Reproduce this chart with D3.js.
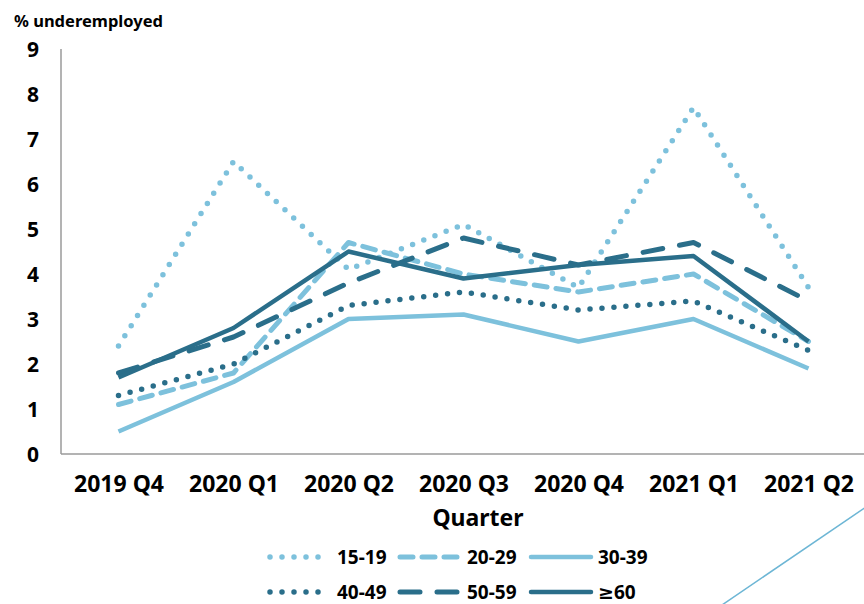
<!DOCTYPE html>
<html>
<head>
<meta charset="utf-8">
<script src="https://cdn.jsdelivr.net/npm/d3@7"></script>
<style>
  html,body{margin:0;padding:0;background:#fff;}
  svg{display:block;}
  svg text{font-family:"Noto Sans","DejaVu Sans",sans-serif;font-weight:bold;}
</style>
</head>
<body>
<div id="chart"></div>
<script>
const quarters = ['2019 Q4','2020 Q1','2020 Q2','2020 Q3','2020 Q4','2021 Q1','2021 Q2'];
const yTicks = [0,1,2,3,4,5,6,7,8,9];
const ages = ['15-19','20-29','30-39','40-49','50-59','≥60'];

const v15_19 = [2.4, 6.5, 4.1, 5.1, 3.7, 7.7, 3.7];
const v20_29 = [1.1, 1.8, 4.7, 4.0, 3.6, 4.0, 2.5];
const v30_39 = [0.5, 1.6, 3.0, 3.1, 2.5, 3.0, 1.9];
const v40_49 = [1.3, 2.0, 3.3, 3.6, 3.2, 3.4, 2.3];
const v50_59 = [1.8, 2.6, 3.8, 4.8, 4.2, 4.7, 3.4];
const v60 = [1.7, 2.8, 4.5, 3.9, 4.2, 4.4, 2.5];

const LIGHT = '#7dc1dc', DARK = '#2a6e8a';
// line styles per series: colour, dash pattern
const styles = [
  {c:LIGHT, dash:'0 12', w:5.5},
  {c:LIGHT, dash:'13 9', w:5},
  {c:LIGHT, dash:null, w:4.5},
  {c:DARK, dash:'0 12', w:5.5},
  {c:DARK, dash:'20 17', w:5},
  {c:DARK, dash:null, w:4.5}
];
const series = [v15_19, v20_29, v30_39, v40_49, v50_59, v60];

const W=864, H=604;
const svg = d3.select('#chart').append('svg').attr('width',W).attr('height',H);

const x = d3.scalePoint().domain(quarters).range([61,866]).padding(0.5);
const y = d3.scaleLinear().domain([0,9]).range([454,49]);

// axes
const yAx = svg.append('g').attr('transform','translate(61,0)')
  .call(d3.axisLeft(y).tickValues(yTicks).tickSize(0).tickPadding(22).tickFormat(d3.format('d')));
yAx.attr('font-family',null);
yAx.select('.domain').remove();
yAx.selectAll('text').attr('font-size',21).attr('fill','#000').attr('dy','0.36em');

const xAx = svg.append('g').attr('transform','translate(0,454)')
  .call(d3.axisBottom(x).tickSize(0).tickPadding(0));
xAx.attr('font-family',null);
xAx.select('.domain').remove();
xAx.selectAll('text').attr('font-size',23).attr('fill','#000').attr('y',38).attr('dy',null);

svg.append('line').attr('x1',61).attr('x2',61).attr('y1',49).attr('y2',454)
  .attr('stroke','#9a9a9a').attr('stroke-width',1.5);
svg.append('line').attr('x1',61).attr('x2',866).attr('y1',454).attr('y2',454)
  .attr('stroke','#9a9a9a').attr('stroke-width',1.5);

svg.append('text').attr('x',14).attr('y',27).attr('font-size',16.5).text('% underemployed');
svg.append('text').attr('x',478).attr('y',526).attr('text-anchor','middle').attr('font-size',23).text('Quarter');

// lines
const line = d3.line().x((d,i)=>x(quarters[i])).y(d=>y(d));
svg.append('g').selectAll('path').data(series).join('path')
  .attr('d',line)
  .attr('fill','none')
  .attr('stroke',(d,i)=>styles[i].c)
  .attr('stroke-width',(d,i)=>styles[i].w)
  .attr('stroke-dasharray',(d,i)=>styles[i].dash)
  .attr('stroke-linecap',(d,i)=>styles[i].dash ? 'round' : 'butt')
  .attr('stroke-linejoin','round');

// legend
const colX = [270, 400, 531];
const rowY = [557, 592];
const lg = svg.append('g').selectAll('g').data(ages).join('g')
  .attr('transform',(d,i)=>`translate(${colX[i%3]},${rowY[Math.floor(i/3)]})`);
lg.append('line').attr('x1',0).attr('x2',(d,i)=>i%3===2?60:57).attr('y1',0).attr('y2',0)
  .attr('stroke',(d,i)=>styles[i].c)
  .attr('stroke-width',(d,i)=>styles[i].w)
  .attr('stroke-dasharray',(d,i)=>styles[i].dash)
  .attr('stroke-linecap','round');
lg.append('text').attr('x',67).attr('dy','0.36em').attr('font-size',19).text(d=>d);

// stray diagonal rule at lower right
svg.append('line').attr('x1',722).attr('y1',605).attr('x2',866).attr('y2',507)
  .attr('stroke','#6db6d5').attr('stroke-width',1.5);
</script>
</body>
</html>
